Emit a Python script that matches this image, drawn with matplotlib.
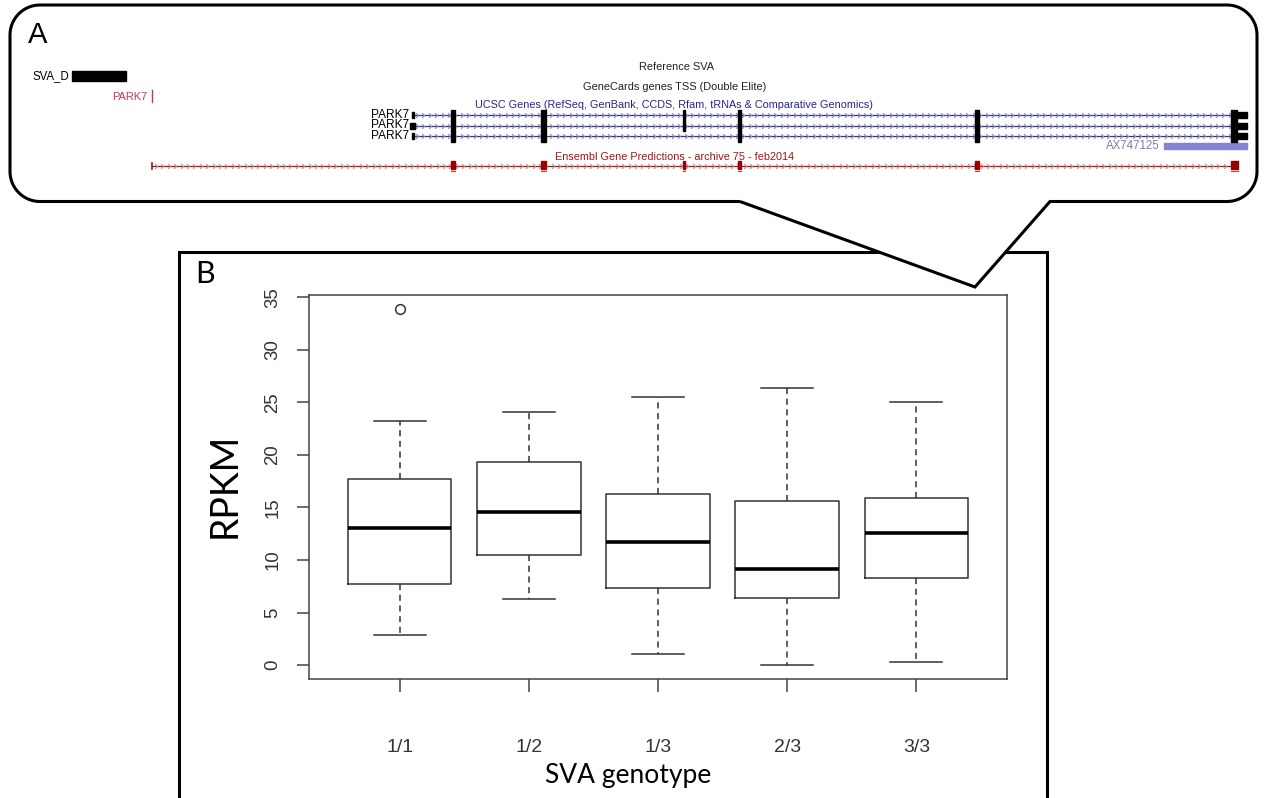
import matplotlib
matplotlib.use("Agg")
import matplotlib.pyplot as plt
import numpy as np
from matplotlib.path import Path
from matplotlib.patches import PathPatch, Rectangle

# ---------------------------------------------------------------- data
genotypes = ["1/1", "1/2", "1/3", "2/3", "3/3"]
whisker_low = [2.85, 6.33, 1.08, 0.03, 0.25]
q1 = [7.69, 10.44, 7.34, 6.42, 8.29]
medians = [13.04, 14.53, 11.68, 9.15, 12.53]
q3 = [17.69, 19.30, 16.30, 15.63, 15.92]
whisker_high = [23.26, 24.11, 25.51, 26.36, 25.00]
outlier_group = [0]
outlier_value = [33.86]
yticks = [0, 5, 10, 15, 20, 25, 30, 35]

# genome browser track (panel A), in browser pixel units
ucsc_rows = [115, 125.5, 136]
ucsc_start, ucsc_end = 413, 1231
exon_pos = [453, 543, 684, 739, 977]
exon_width = [3.5, 5, 2.5, 3, 3.5]
exon_rows = [[0, 1, 2], [0, 1, 2], [0, 1], [0, 1, 2], [0, 1, 2]]
cds_end = (1231, 1237)
utr_end = (1237, 1247)
ens_start, ens_end = 152, 1231
ens_y = 165.5
ax_bar = (1164, 1247)

W, H = 1267, 798
SANS = ["Liberation Sans", "DejaVu Sans"]
OFFICE = ["Lato", "DejaVu Sans"]

fig = plt.figure(figsize=(W / 100, H / 100), dpi=100)


def fig_rect(x0, y0, x1, y1):
    return [x0 / W, 1 - y1 / H, (x1 - x0) / W, (y1 - y0) / H]


# ---------------------------------------------------------------- panel B boxplot
ax = fig.add_axes(fig_rect(309.3, 295, 1006.7, 679), zorder=1)
stats = []
for i, g in enumerate(genotypes):
    stats.append({
        "label": g, "med": medians[i], "q1": q1[i], "q3": q3[i],
        "whislo": whisker_low[i], "whishi": whisker_high[i],
        "fliers": [v for k, v in zip(outlier_group, outlier_value) if k == i],
    })
ax.bxp(stats, positions=range(1, 6), widths=0.8, capwidths=0.4,
       boxprops=dict(color="#333333", lw=1.1),
       medianprops=dict(color="black", lw=2.6, solid_capstyle="butt"),
       whiskerprops=dict(color="#333333", lw=1.1, linestyle=(0, (4, 3))),
       capprops=dict(color="#333333", lw=1.1),
       flierprops=dict(marker="o", markersize=7, markerfacecolor="none",
                       markeredgecolor="#333333", markeredgewidth=1.1))
ax.set_xlim(0.3, 5.7)
ax.set_ylim(-1.32, 35.21)
for s in ax.spines.values():
    s.set_color("#444444")
    s.set_linewidth(1.1)
ax.set_yticks(yticks)
ax.set_yticklabels([str(t) for t in yticks], rotation=90, va="center",
                   family=SANS, fontsize=13.4, color="#333333")
ax.set_xticks(range(1, 6))
ax.set_xticklabels(genotypes, family=SANS, fontsize=14, color="#333333")
ax.tick_params(axis="both", direction="out", length=9, width=1.1, color="#444444")
ax.tick_params(axis="y", pad=11)
ax.tick_params(axis="x", pad=34)

# ---------------------------------------------------------------- canvas overlay
cv = fig.add_axes([0, 0, 1, 1], zorder=2)
cv.set_xlim(0, W)
cv.set_ylim(H, 0)
cv.axis("off")
cv.patch.set_visible(False)

# panel B frame
cv.plot([178.5, 178.5, 1047, 1047], [H + 5, 251.5, 251.5, H + 5],
        color="black", lw=2.2, solid_joinstyle="miter", zorder=1)
cv.text(205, 274, "B", family=OFFICE, fontsize=22, ha="center", va="center")
cv.text(225, 485, "RPKM", family=OFFICE, fontsize=27, rotation=90,
        ha="center", va="center")
cv.text(628, 776, "SVA genotype", family=OFFICE, fontsize=19,
        ha="center", va="center")

# callout bubble for panel A
def arc(cx, cy, r, a0, a1, n=20):
    t = np.radians(np.linspace(a0, a1, n))
    return list(zip(cx + r * np.cos(t), cy + r * np.sin(t)))

L, T, R, B, r = 10, 5, 1257, 201.5, 30
verts = [(740, B)]
verts += [(L + r, B)]
verts += arc(L + r, B - r, r, 90, 180)
verts += [(L, T + r)]
verts += arc(L + r, T + r, r, 180, 270)
verts += [(R - r, T)]
verts += arc(R - r, T + r, r, 270, 360)
verts += [(R, B - r)]
verts += arc(R - r, B - r, r, 0, 90)
verts += [(1050, B), (975, 287), (740, B)]
codes = [Path.MOVETO] + [Path.LINETO] * (len(verts) - 1)
cv.add_patch(PathPatch(Path(verts, codes), facecolor="white", edgecolor="black",
                       lw=2.2, joinstyle="miter", zorder=2))

cv.text(38, 35, "A", family=SANS, fontsize=21, ha="center", va="center", zorder=5)

# ---- tracks
fs = 8.3
ts = 7.9
cv.text(69, 76, "SVA_D", family=SANS, fontsize=fs, ha="right", va="center", zorder=5)
cv.add_patch(Rectangle((72, 71), 54, 10, color="black", zorder=5))
cv.text(147, 96.5, "PARK7", family=SANS, fontsize=7.9, ha="right", va="center",
        color="#c03a55", zorder=5)
cv.plot([152, 152], [90, 102], color="#c03a55", lw=1, zorder=5)

cv.text(677, 67, "Reference SVA", family=SANS, fontsize=ts, ha="center",
        va="center", color="#222222", zorder=5)
cv.text(675, 87, "GeneCards genes TSS (Double Elite)", family=SANS, fontsize=ts,
        ha="center", va="center", color="#222222", zorder=5)
cv.text(673.5, 105.5,
        "UCSC Genes (RefSeq, GenBank, CCDS, Rfam, tRNAs & Comparative Genomics)",
        family=SANS, fontsize=7.8, ha="center", va="center", color="#26268f", zorder=5)

chevron = Path([(-1, 1), (0, 0), (-1, -1)], [Path.MOVETO, Path.LINETO, Path.LINETO])

for k, y in enumerate(ucsc_rows):
    cv.text(409, y, "PARK7", family=SANS, fontsize=8.6, ha="right", va="center", zorder=5)
    cv.plot([ucsc_start, ucsc_end], [y, y], color="#35356f", lw=0.9, zorder=5)
    xs = np.arange(ucsc_start + 5, ucsc_end, 6.4)
    cv.plot(xs, np.full_like(xs, y), ls="none", marker=chevron, markersize=3.4,
            markerfacecolor="none", markeredgecolor="#8e8ecc", mew=0.9, zorder=5)
    if k == 1:
        cv.add_patch(Rectangle((410, y - 3), 5, 6, color="black", zorder=6))
    else:
        cv.add_patch(Rectangle((412, y - 3), 2, 6, color="black", zorder=6))
    cv.add_patch(Rectangle((cds_end[0], y - 5), cds_end[1] - cds_end[0], 10.5,
                           color="black", zorder=6))
    cv.add_patch(Rectangle((utr_end[0], y - 3), utr_end[1] - utr_end[0], 6,
                           color="black", zorder=6))

for x, w, rows in zip(exon_pos, exon_width, exon_rows):
    for k in rows:
        y = ucsc_rows[k]
        cv.add_patch(Rectangle((x - w / 2, y - 5), w, 10.5, color="black", zorder=6))

cv.text(1160, 146, "AX747125", family=SANS, fontsize=fs, ha="right", va="center",
        color="#7b7bab", zorder=5)
cv.add_patch(Rectangle((ax_bar[0], 143), ax_bar[1] - ax_bar[0], 6,
                       color="#8484d4", zorder=5))

cv.text(675, 157, "Ensembl Gene Predictions - archive 75 - feb2014", family=SANS,
        fontsize=7.8, ha="center", va="center", color="#a31515", zorder=5)
cv.plot([ens_start, ens_end], [ens_y, ens_y], color="#8b1a1a", lw=0.9, zorder=5)
xs = np.arange(ens_start + 5, ens_end, 6.4)
cv.plot(xs, np.full_like(xs, ens_y), ls="none", marker=chevron, markersize=3.4,
        markerfacecolor="none", markeredgecolor="#d48a8a", mew=0.9, zorder=5)
cv.plot([ens_start, ens_start], [ens_y - 3, ens_y + 3], color="#8b1a1a", lw=1.2, zorder=5)
for x, w in zip(exon_pos + [sum(cds_end) / 2 + 0.5], exon_width + [7]):
    cv.add_patch(Rectangle((x - w / 2, ens_y - 5), w, 8, color="#990000", zorder=6))
    cv.plot([x - w / 2, x + w / 2], [ens_y + 5.5, ens_y + 5.5], color="#c04040",
            lw=0.8, zorder=6)

fig.savefig("out.png", dpi=100)
